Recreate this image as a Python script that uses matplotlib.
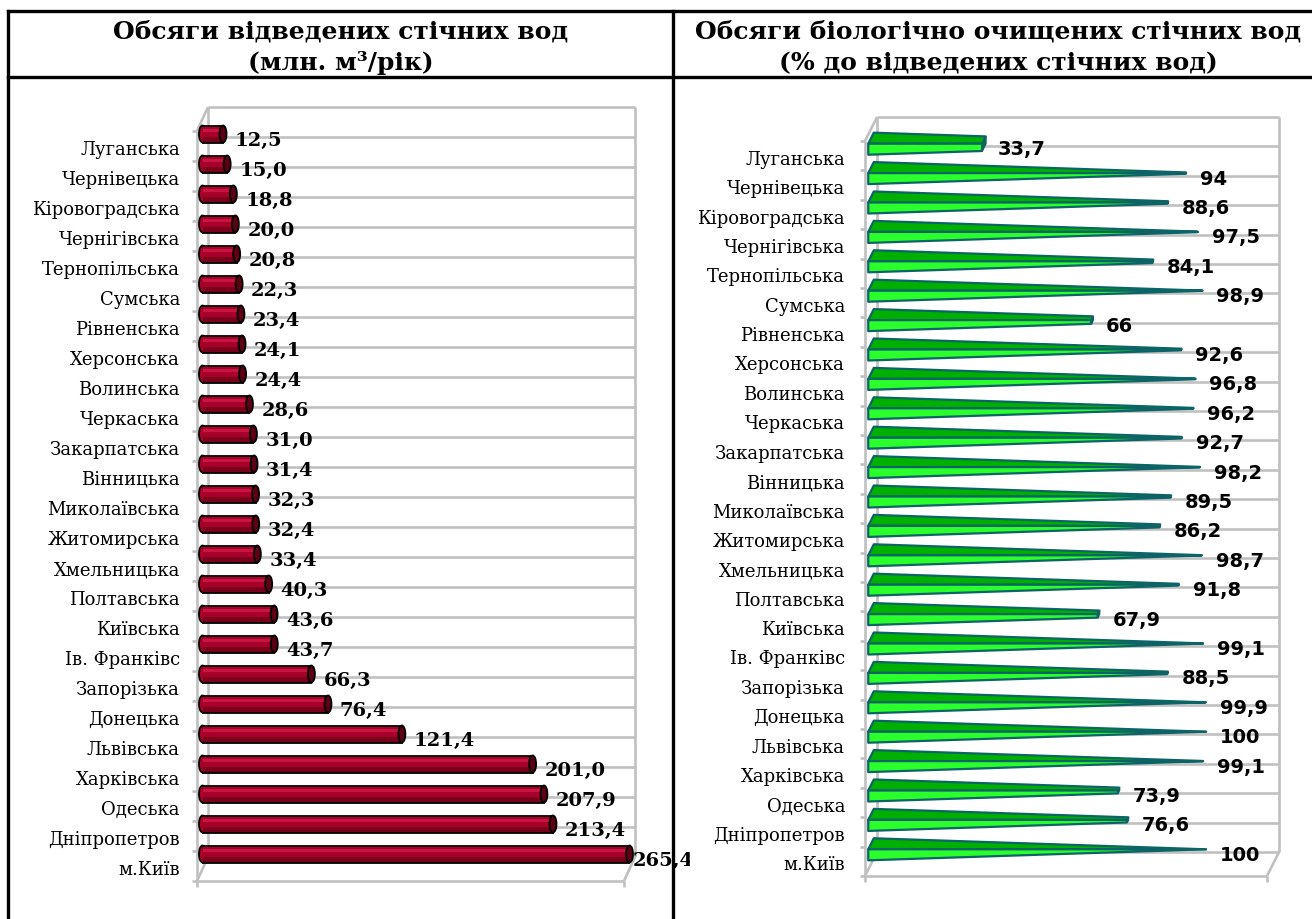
import matplotlib
matplotlib.use("Agg")
import matplotlib.pyplot as plt
from matplotlib.patches import Rectangle, Ellipse, Polygon

W, H = 1312, 920

regions = ["Луганська", "Чернівецька", "Кіровоградська", "Чернігівська",
           "Тернопільська", "Сумська", "Рівненська", "Херсонська", "Волинська",
           "Черкаська", "Закарпатська", "Вінницька", "Миколаївська",
           "Житомирська", "Хмельницька", "Полтавська", "Київська",
           "Ів. Франківс", "Запорізька", "Донецька", "Львівська", "Харківська",
           "Одеська", "Дніпропетров", "м.Київ"]
discharge = [12.5, 15.0, 18.8, 20.0, 20.8, 22.3, 23.4, 24.1, 24.4, 28.6,
             31.0, 31.4, 32.3, 32.4, 33.4, 40.3, 43.6, 43.7, 66.3, 76.4,
             121.4, 201.0, 207.9, 213.4, 265.4]
bio_share = [33.7, 94, 88.6, 97.5, 84.1, 98.9, 66, 92.6, 96.8, 96.2, 92.7,
             98.2, 89.5, 86.2, 98.7, 91.8, 67.9, 99.1, 88.5, 99.9, 100, 99.1,
             73.9, 76.6, 100]

title_left = ["Обсяги відведених стічних вод", "(млн. м³/рік)"]
title_right = ["Обсяги біологічно очищених стічних вод", "(% до відведених стічних вод)"]

GRID = "#c0c0c0"
N = len(regions)

fig = plt.figure(figsize=(W / 100, H / 100), dpi=100)


def px_axes(left, right, top, bottom):
    ax = fig.add_axes([left / W, 1 - bottom / H, (right - left) / W, (bottom - top) / H])
    ax.set_axis_off()
    return ax


def fmt(v, decimals):
    s = f"{v:.1f}" if decimals else f"{v:g}"
    return s.replace(".", ",")


def draw_frame(ax, xmax, ox, oy):
    """Back wall grid, floor and left wall of the pseudo-3D box."""
    ax.set_xlim(0, xmax)
    ax.set_ylim(N - 0.5, -0.5)
    bb = ax.get_position()
    pxx = bb.width * W / xmax
    pxy = bb.height * H / N
    bx, by = ox / pxx, oy / pxy
    kw = dict(color=GRID, lw=1.9, clip_on=False, zorder=1, solid_capstyle="butt")
    top, bot = -0.5, N - 0.5
    for k in range(N + 1):
        y = k - 0.5
        ax.plot([bx, xmax + bx], [y - by, y - by], **kw)
        # ticks on the front axis
        ax.plot([-5 / pxx, 0], [y, y], **kw)
    ax.plot([bx, bx], [top - by, bot - by], **kw)
    ax.plot([xmax + bx, xmax + bx], [top - by, bot - by], **kw)
    ax.plot([0, 0], [top, bot + 6 / pxy], **kw)
    ax.plot([0, xmax], [bot, bot], **kw)
    ax.plot([xmax, xmax], [bot, bot + 6 / pxy], **kw)
    for x, y in [(0, top), (0, bot), (xmax, bot)]:
        ax.plot([x, x + bx], [y, y - by], **kw)
    return pxx, pxy, bx, by


def draw_labels(ax, dx_px):
    for i, name in enumerate(regions):
        ax.annotate(name, (0, i), xytext=(dx_px, -3), textcoords="offset pixels",
                    ha="right", va="center", fontsize=13, family="DejaVu Serif",
                    annotation_clip=False)


# ---- table lines and headers ----
line_kw = dict(color="black", lw=2.4, transform=fig.transFigure, clip_on=False, zorder=10)
fig.add_artist(plt.Line2D([8 / W, 1], [1 - 12 / H] * 2, **line_kw))
fig.add_artist(plt.Line2D([8 / W, 1], [1 - 78 / H] * 2, **line_kw))
fig.add_artist(plt.Line2D([8 / W] * 2, [0, 1 - 12 / H], **line_kw))
fig.add_artist(plt.Line2D([673 / W] * 2, [0, 1 - 12 / H], **line_kw))

for cx, lines in [(341, title_left), (998, title_right)]:
    for ty, txt in zip([31, 63], lines):
        fig.text(cx / W, 1 - ty / H, txt, ha="center", va="center",
                 fontsize=18, fontweight="bold", family="DejaVu Serif")

# ---- left panel: cylinders ----
axL = px_axes(197, 624, 132, 882)
XMAX_L = 260
pxx, pxy, bx, by = draw_frame(axL, XMAX_L, 11, 24)
draw_labels(axL, -17)
mx, my = bx / 2, by / 2
hb = 8.5 / pxy
cw = 7 / pxx
clip = Rectangle((0, -1), XMAX_L + mx, N + 1, transform=axL.transData)
for i, v in enumerate(discharge):
    yc = i - my
    end = min(v, XMAX_L) + mx
    axL.add_patch(Ellipse((mx, yc), cw, 2 * hb, fc="#a8002a", ec="black", lw=1.3,
                          zorder=2, clip_on=False))
    parts = [
        Rectangle((mx, yc - hb), v, 2 * hb, fc="#a8002a", ec="none", zorder=3),
        Rectangle((mx, yc + hb * 0.3), v, hb * 0.7, fc="#78001b", ec="none", zorder=3),
        Rectangle((mx, yc - hb * 0.6), v, hb * 0.4, fc="#c81440", ec="none", zorder=3),
    ]
    for p in parts:
        axL.add_patch(p)
        p.set_clip_path(clip)
    for yy in (yc - hb, yc + hb):
        ln, = axL.plot([mx, mx + v], [yy, yy], color="black", lw=1.3, zorder=4)
        ln.set_clip_path(clip)
    axL.add_patch(Ellipse((end, yc), cw, 2 * hb, fc="#5e0014", ec="black", lw=1.3,
                          zorder=5, clip_on=False))
    gap = 12 if v <= XMAX_L else 3
    t = axL.annotate(fmt(v, True), (end, yc), xytext=(gap, -6),
                     textcoords="offset pixels", ha="left", va="center",
                     fontsize=14, fontweight="bold", family="DejaVu Serif",
                     annotation_clip=False, zorder=6)
    t.set_clip_path(Rectangle((8 / W, 0), (690 - 8) / W, 1, transform=fig.transFigure))

# ---- right panel: pyramids to max ----
axR = px_axes(865, 1267, 142, 877)
XMAX_R = 120
pxx, pxy, bx, by = draw_frame(axR, XMAX_R, 12, 24)
draw_labels(axR, -20)
hh = 5.5 / pxy
wd = 0.23
EDGE = "#0c6466"


def pt(x, y, f):
    return (x + f * bx, y - f * by)


for i, v in enumerate(bio_share):
    def corners(x):
        k = 1 - x / 100
        return (pt(x, i - hh * k, 0.5 - wd * k), pt(x, i + hh * k, 0.5 - wd * k),
                pt(x, i - hh * k, 0.5 + wd * k), pt(x, i + hh * k, 0.5 + wd * k))
    ft0, fb0, bt0, bb0 = corners(0)
    ft1, fb1, bt1, bb1 = corners(v)
    axR.add_patch(Polygon([fb1, ft1, bt1, bb1], fc="#008a00", ec=EDGE, lw=1.4,
                          zorder=2, clip_on=False))
    axR.add_patch(Polygon([ft0, bt0, bt1, ft1], fc="#00b000", ec=EDGE, lw=1.6,
                          joinstyle="round", zorder=3, clip_on=False))
    axR.add_patch(Polygon([fb0, ft0, ft1, fb1], fc="#2bff2b", ec=EDGE, lw=1.6,
                          joinstyle="round", zorder=4, clip_on=False))
    tip = pt(v, i, 0.5)
    axR.annotate(fmt(v, False), tip, xytext=(14, -5), textcoords="offset pixels",
                 ha="left", va="center", fontsize=14, fontweight="bold",
                 family="DejaVu Sans", annotation_clip=False, zorder=6)

fig.savefig("out.png", dpi=100, facecolor="white")
